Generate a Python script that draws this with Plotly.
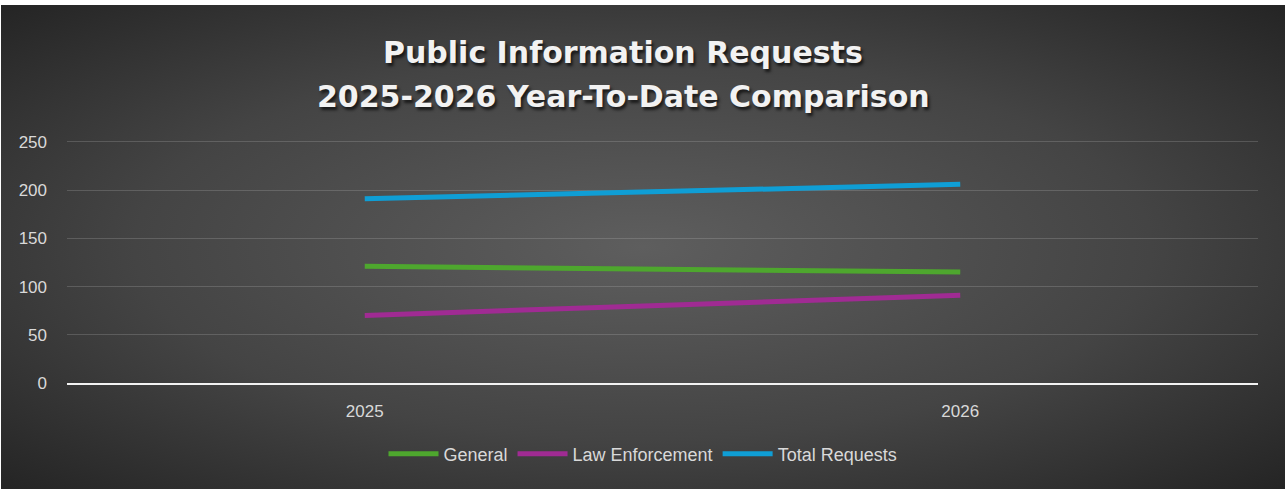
import base64
import plotly.graph_objects as go

# Year-to-date public information request counts
years = ["2025", "2026"]
general = [121, 115]
law_enforcement = [70, 91]
total_requests = [191, 206]

title_lines = ["Public Information Requests", "2025-2026 Year-To-Date Comparison"]
y_ticks = [0, 50, 100, 150, 200, 250]

W, H = 1285, 489
M_L, M_R, M_T, M_B = 67, 27, 139, 106
PW, PH = W - M_L - M_R, H - M_T - M_B

# Dark radial backdrop for the chart frame
bg_svg = (
    '<svg xmlns="http://www.w3.org/2000/svg" width="1284" height="484" '
    'viewBox="0 0 1284 484" preserveAspectRatio="none">'
    '<defs><radialGradient id="g" cx="50%" cy="50%" r="72%" fx="50%" fy="50%">'
    '<stop offset="0%" stop-color="#5e5e5e"/>'
    '<stop offset="55%" stop-color="#444444"/>'
    '<stop offset="100%" stop-color="#232323"/>'
    '</radialGradient></defs>'
    '<rect width="1284" height="484" fill="url(#g)"/></svg>'
)
bg_uri = "data:image/svg+xml;base64," + base64.b64encode(bg_svg.encode()).decode()


def px_x(x):
    return (x - M_L) / PW


def px_y(y):
    return (H - M_B - y) / PH


series = [
    ("General", general, "#4EA72E"),
    ("Law Enforcement", law_enforcement, "#A02B93"),
    ("Total Requests", total_requests, "#0F9ED5"),
]

fig = go.Figure()
for name, vals, color in series:
    fig.add_trace(go.Scatter(
        x=years, y=vals, name=name, mode="lines",
        line=dict(color=color, width=5),
    ))

title_font = dict(family="DejaVu Sans", size=30, color="#f2f2f2", weight="bold",
                  shadow="2px 3px 3px rgba(0,0,0,0.65)")
annotations = [
    dict(text=title_lines[0], x=px_x(623), y=px_y(53), xref="paper", yref="paper",
         xanchor="center", yanchor="middle", showarrow=False, font=title_font),
    dict(text=title_lines[1], x=px_x(623), y=px_y(97), xref="paper", yref="paper",
         xanchor="center", yanchor="middle", showarrow=False, font=title_font),
]

fig.update_layout(
    width=W, height=H,
    margin=dict(l=M_L, r=M_R, t=M_T, b=M_B),
    paper_bgcolor="white",
    plot_bgcolor="rgba(0,0,0,0)",
    showlegend=True,
    legend=dict(
        orientation="h", x=px_x(643), y=px_y(454), xanchor="center", yanchor="middle",
        font=dict(family="Liberation Sans", size=18, color="#d9d9d9"),
        bgcolor="rgba(0,0,0,0)", itemwidth=50,
    ),
    annotations=annotations,
    images=[dict(
        source=bg_uri, xref="paper", yref="paper",
        x=px_x(1), y=px_y(5), sizex=(W - 1) / PW, sizey=(H - 5) / PH,
        xanchor="left", yanchor="top", sizing="stretch", layer="below",
    )],
)

fig.update_xaxes(
    type="category", range=[-0.5, 1.5],
    showgrid=False, zeroline=False,
    showline=True, linecolor="#f2f2f2", linewidth=2,
    ticks="", ticklabelstandoff=12,
    tickfont=dict(family="Liberation Sans", size=17, color="#d9d9d9"),
)
fig.update_yaxes(
    range=[0, 253], tickvals=y_ticks,
    showgrid=True, gridcolor="rgba(200,200,200,0.22)", gridwidth=1,
    zeroline=False, showline=False,
    ticks="", ticklabelstandoff=19,
    tickfont=dict(family="Liberation Sans", size=17, color="#d9d9d9"),
)

fig.write_html("out.html")
